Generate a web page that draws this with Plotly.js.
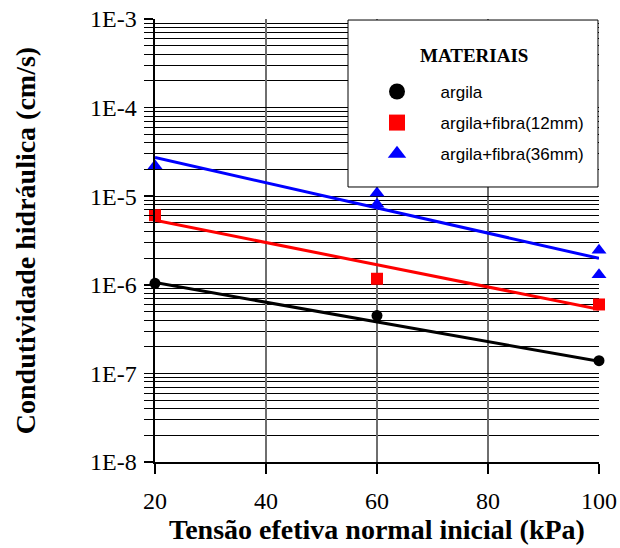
<!DOCTYPE html>
<html>
<head>
<meta charset="utf-8">
<script src="https://cdn.plot.ly/plotly-3.0.1.min.js"></script>
<style>html,body{margin:0;padding:0;background:#fff;}#chart{width:620px;height:548px;}</style>
</head>
<body>
<div id="chart"></div>
<script>
// Data
const argilaX = [20, 60, 100];
const argilaY = [1.04e-6, 4.5e-7, 1.39e-7];
const fibra12X = [20, 60, 100];
const fibra12Y = [6.1e-6, 1.17e-6, 6.0e-7];
const fibra36X = [20, 60, 60, 100, 100];
const fibra36Y = [2.2e-5, 1.09e-5, 8.1e-6, 2.46e-6, 1.30e-6];
// trend lines (end points)
const trendX = [20, 100];
const argilaTrend = [1.06e-6, 1.37e-7];
const fibra12Trend = [5.35e-6, 5.3e-7];
const fibra36Trend = [2.73e-5, 1.99e-6];
const yTickVals = [1e-8, 1e-7, 1e-6, 1e-5, 1e-4, 1e-3];
const yTickText = ['1E-8', '1E-7', '1E-6', '1E-5', '1E-4', '1E-3'];
const xTickVals = [20, 40, 60, 80, 100];
const seriesNames = ['argila', 'argila+fibra(12mm)', 'argila+fibra(36mm)'];
const legendTitle = 'MATERIAIS';

const NBSP = '\u00a0';
const pad = NBSP.repeat(5);
const serif = 'Liberation Serif';
const sans = 'Liberation Sans';

const traces = [
  // data markers
  {x: argilaX, y: argilaY, mode: 'markers', showlegend: false, cliponaxis: false,
   marker: {symbol: 'circle', size: 11, color: '#000'}},
  {x: fibra12X, y: fibra12Y, mode: 'markers', showlegend: false, cliponaxis: false,
   marker: {symbol: 'square', size: 12, color: '#ff0000'}},
  {x: fibra36X, y: fibra36Y, mode: 'markers', showlegend: false, cliponaxis: false,
   marker: {symbol: 'triangle-up', size: 13, color: '#0000ff'}},
  // trend lines
  {x: trendX, y: argilaTrend, mode: 'lines', showlegend: false, cliponaxis: false,
   line: {color: '#000', width: 3}},
  {x: trendX, y: fibra12Trend, mode: 'lines', showlegend: false, cliponaxis: false,
   line: {color: '#ff0000', width: 3}},
  {x: trendX, y: fibra36Trend, mode: 'lines', showlegend: false, cliponaxis: false,
   line: {color: '#0000ff', width: 3}},
  // legend entries (no data, larger symbols)
  {x: [null], y: [null], mode: 'markers', name: pad + seriesNames[0], legendgroup: 'a',
   marker: {symbol: 'circle', size: 17, color: '#000'}},
  {x: [null], y: [null], mode: 'markers', name: pad + seriesNames[1], legendgroup: 'b',
   marker: {symbol: 'square', size: 17, color: '#ff0000'}},
  {x: [null], y: [null], mode: 'markers', name: pad + seriesNames[2], legendgroup: 'c',
   marker: {symbol: 'triangle-up', size: 16, color: '#0000ff'}}
];

const layout = {
  width: 620, height: 548,
  margin: {l: 155, r: 21, t: 19, b: 86},
  paper_bgcolor: '#fff', plot_bgcolor: '#fff',
  font: {family: serif, size: 24, color: '#000'},
  showlegend: true,
  shapes: [
    {type: 'rect', xref: 'paper', yref: 'paper', x0: 0.4347, x1: 0.9977, y0: 0.6208, y1: 0.9977,
     fillcolor: '#fff', line: {color: '#000', width: 1}, layer: 'above'}
  ],
  annotations: [
    {xref: 'paper', yref: 'paper', x: 0.719, y: 0.918, xanchor: 'center', yanchor: 'middle',
     text: '<b>' + legendTitle + '</b>', showarrow: false,
     font: {family: serif, size: 19, color: '#000'}}
  ],
  legend: {
    x: 0.5, y: 0.876, xanchor: 'left', yanchor: 'top',
    bgcolor: 'rgba(0,0,0,0)', borderwidth: 0,
    font: {family: sans, size: 17, color: '#000'},
    itemwidth: 30, tracegroupgap: 6, valign: 'middle'
  },
  xaxis: {
    range: [20, 100], tickmode: 'array', tickvals: xTickVals,
    showgrid: true, gridcolor: '#6e6e6e', gridwidth: 1.5,
    showline: true, linecolor: '#000', linewidth: 2,
    ticks: 'outside', ticklen: 10, tickcolor: '#000', tickwidth: 2,
    ticklabelstandoff: 6,
    zeroline: false,
    tickfont: {family: serif, size: 24, color: '#000'},
    title: {text: '<b>Tensão efetiva normal inicial (kPa)</b>', standoff: 2,
            font: {family: serif, size: 28, color: '#000'}}
  },
  yaxis: {
    type: 'log', range: [-8, -3],
    tickmode: 'array', tickvals: yTickVals, ticktext: yTickText,
    showgrid: true, gridcolor: '#000', gridwidth: 1,
    showline: true, linecolor: '#000', linewidth: 2.5,
    ticks: 'outside', ticklen: 9, tickcolor: '#000', tickwidth: 1.5,
    ticklabelstandoff: 2,
    zeroline: false,
    minor: {dtick: 'D1', showgrid: true, gridcolor: '#000', gridwidth: 1,
            ticks: 'outside', ticklen: 9, tickcolor: '#000', tickwidth: 1},
    tickfont: {family: serif, size: 24, color: '#000'},
    title: {text: '<b>Condutividade hidráulica (cm/s)</b>', standoff: 46,
            font: {family: serif, size: 28, color: '#000'}}
  }
};

Plotly.newPlot('chart', traces, layout, {displayModeBar: false, staticPlot: true});
</script>
</body>
</html>
